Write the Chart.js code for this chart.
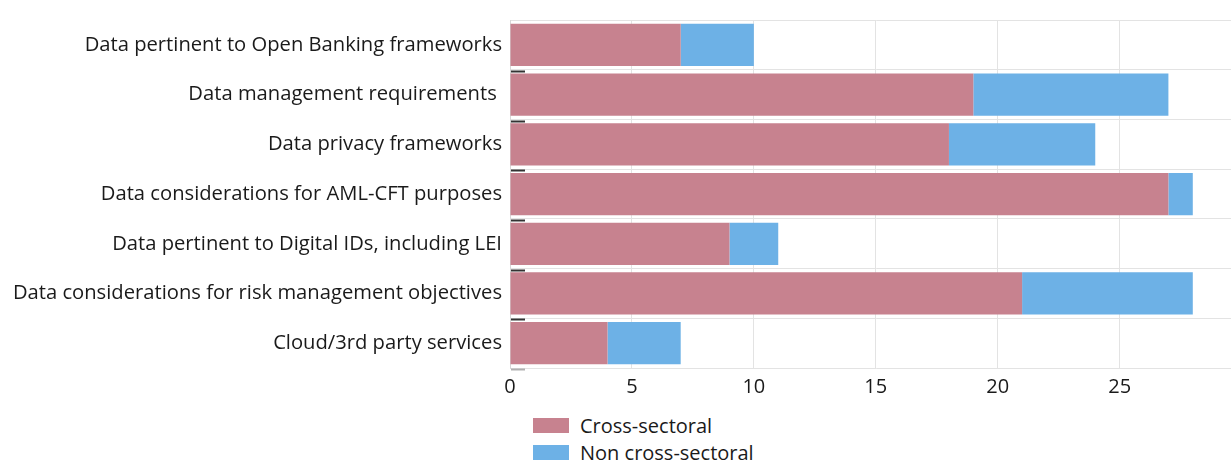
<!DOCTYPE html>
<html>
<head>
<meta charset="utf-8">
<script src="https://cdn.jsdelivr.net/npm/chart.js@4.4.1/dist/chart.umd.min.js"></script>
<style>
  html, body { margin: 0; padding: 0; background: #fff; overflow: hidden; width: 1231px; height: 460px; }
  #wrap { position: absolute; left: 0; top: 0; width: 1260px; height: 400px; }
  #legend { position: absolute; left: 533px; top: 412px; font-family: "Open Sans", sans-serif; font-size: 20px; color: #1a1a1a; }
  .item { display: flex; align-items: center; height: 27px; }
  .box { width: 36px; height: 15px; margin-right: 11px; }
</style>
</head>
<body>
<div id="wrap"><canvas id="chart"></canvas></div>
<div id="legend"></div>
<script>
const categories = [
    'Data pertinent to Open Banking frameworks',
    'Data management requirements ',
    'Data privacy frameworks',
    'Data considerations for AML-CFT purposes',
    'Data pertinent to Digital IDs, including LEI',
    'Data considerations for risk management objectives',
    'Cloud/3rd party services'
];
const crossSectoral = [7, 19, 18, 27, 9, 21, 4];
const nonCrossSectoral = [3, 8, 6, 1, 2, 7, 3];
const seriesNames = ['Cross-sectoral', 'Non cross-sectoral'];
const seriesColors = ['#C7828F', '#6DB1E6'];
const xTicks = [0, 5, 10, 15, 20, 25, 30];

const FONT = '"Open Sans", sans-serif';

// short dark marks on the left edge between rows
const rowMarks = {
    id: 'rowMarks',
    afterDatasetsDraw(chart) {
        const y = chart.scales.y;
        const left = chart.chartArea.left;
        const half = (y.getPixelForValue(1) - y.getPixelForValue(0)) / 2;
        const c = chart.ctx;
        c.save();
        c.lineWidth = 2;
        for (let i = 0; i < categories.length; i++) {
            c.strokeStyle = i === categories.length - 1 ? '#b0b0b0' : '#333';
            const py = Math.round(y.getPixelForValue(i) + half) + 1.5;
            c.beginPath();
            c.moveTo(left + 1, py);
            c.lineTo(left + 15, py);
            c.stroke();
        }
        c.restore();
    }
};

const chart = new Chart(document.getElementById('chart'), {
    type: 'bar',
    data: {
        labels: categories,
        datasets: [
            { label: seriesNames[0], data: crossSectoral, backgroundColor: seriesColors[0], borderWidth: 0 },
            { label: seriesNames[1], data: nonCrossSectoral, backgroundColor: seriesColors[1], borderWidth: 0 }
        ]
    },
    options: {
        indexAxis: 'y',
        responsive: true,
        maintainAspectRatio: false,
        animation: false,
        datasets: { bar: { barPercentage: 0.85, categoryPercentage: 1 } },
        layout: { padding: { top: 20, right: 12, bottom: 0, left: 0 } },
        plugins: {
            legend: { display: false },
            tooltip: { enabled: false }
        },
        scales: {
            x: {
                stacked: true,
                min: 0,
                max: 30,
                afterBuildTicks: s => { s.ticks = xTicks.map(v => ({ value: v })); },
                afterFit: s => { s.height = 32; },
                grid: { color: '#e3e3e3', drawTicks: false },
                border: { display: false },
                ticks: { font: { family: FONT, size: 20 }, color: '#1a1a1a', padding: 7 }
            },
            y: {
                stacked: true,
                afterFit: s => { s.width = 510; },
                grid: { color: '#e3e3e3', drawTicks: false, offset: true },
                border: { color: '#d8d8d8' },
                ticks: { font: { family: FONT, size: 20.2 }, color: '#1a1a1a', padding: 8 }
            }
        }
    },
    plugins: [rowMarks]
});

const legend = document.getElementById('legend');
chart.data.datasets.forEach(ds => {
    const item = document.createElement('div');
    item.className = 'item';
    item.innerHTML = '<span class="box" style="background:' + ds.backgroundColor + '"></span><span>' + ds.label + '</span>';
    legend.appendChild(item);
});
</script>
</body>
</html>
